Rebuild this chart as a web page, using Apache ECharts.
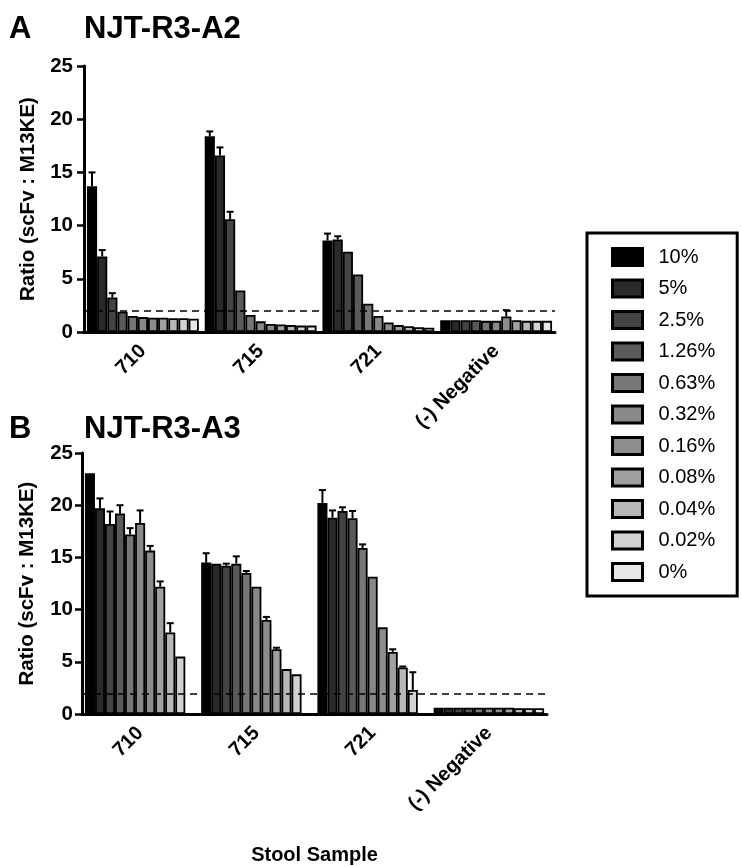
<!DOCTYPE html>
<html>
<head>
<meta charset="utf-8">
<script src="https://cdn.jsdelivr.net/npm/echarts@6/dist/echarts.min.js"></script>
<style>html,body{margin:0;padding:0;background:#fff}#c{width:741px;height:867px}</style>
</head>
<body>
<div id="c"></div>
<script>
// ---- data ----
const categories = ['710', '715', '721', '(-) Negative'];
const concentrations = ['10%', '5%', '2.5%', '1.26%', '0.63%', '0.32%', '0.16%', '0.08%', '0.04%', '0.02%', '0%'];
const yTicks = [0, 5, 10, 15, 20, 25];
const cutoffA = 2.0;
const cutoffB = 1.9;

// Panel A (NJT-R3-A2): values per stool sample, across concentrations (10% ... 0%)
const a2_710 = [13.7, 7.1, 3.25, 1.9, 1.5, 1.4, 1.35, 1.35, 1.3, 1.3, 1.25];
const a2_715 = [18.4, 16.6, 10.6, 3.9, 1.6, 1.0, 0.75, 0.7, 0.65, 0.6, 0.6];
const a2_721 = [8.6, 8.7, 7.55, 5.4, 2.65, 1.5, 0.9, 0.65, 0.55, 0.45, 0.4];
const a2_neg = [1.1, 1.1, 1.1, 1.1, 1.05, 1.05, 1.45, 1.1, 1.05, 1.05, 1.05];
const a2_710_err = [1.3, 0.6, 0.4, 0, 0, 0, 0, 0, 0, 0, 0];
const a2_715_err = [0.45, 0.75, 0.7, 0, 0, 0, 0, 0, 0, 0, 0];
const a2_721_err = [0.65, 0.3, 0, 0, 0, 0, 0, 0, 0, 0, 0];
const a2_neg_err = [0, 0, 0, 0, 0, 0, 0.6, 0, 0, 0, 0];

// Panel B (NJT-R3-A3)
const a3_710 = [23.05, 19.7, 18.2, 19.2, 17.2, 18.3, 15.65, 12.2, 7.8, 5.5, null];
const a3_715 = [14.5, 14.4, 14.2, 14.4, 13.5, 12.2, 9.0, 6.2, 4.3, 3.8, null];
const a3_721 = [20.2, 18.8, 19.45, 18.75, 15.9, 13.15, 8.3, 5.95, 4.45, 2.3, null];
const a3_neg = [0.6, 0.6, 0.6, 0.6, 0.6, 0.6, 0.6, 0.6, 0.55, 0.55, 0.55];
const a3_710_err = [0, 0.95, 1.2, 0.8, 0.6, 1.2, 0.45, 0.5, 0.9, 0, 0];
const a3_715_err = [0.9, 0, 0.2, 0.7, 0.2, 0, 0.3, 0.15, 0, 0, 0];
const a3_721_err = [1.25, 0.7, 0.35, 0.7, 0.35, 0, 0, 0.25, 0.1, 1.7, 0];
const a3_neg_err = [0, 0, 0, 0, 0, 0, 0, 0, 0, 0, 0];

// ---- styling ----
const grays = ['#000000', '#2a2a2a', '#444444', '#5a5a5a', '#777777', '#888888', '#8d8d8d', '#a0a0a0', '#b8b8b8', '#d2d2d2', '#e8e8e8'];
const FONT = 'Liberation Sans, Arial, sans-serif';
const CAT_GAP = 0.05;

const panels = [
  { means: [a2_710, a2_715, a2_721, a2_neg], errs: [a2_710_err, a2_715_err, a2_721_err, a2_neg_err], cutoff: cutoffA },
  { means: [a3_710, a3_715, a3_721, a3_neg], errs: [a3_710_err, a3_715_err, a3_721_err, a3_neg_err], cutoff: cutoffB }
];

const series = [];
panels.forEach((p, pi) => {
  concentrations.forEach((name, si) => {
    const s = {
      name: name,
      type: 'bar',
      xAxisIndex: pi,
      yAxisIndex: pi,
      barGap: '0%',
      barCategoryGap: (CAT_GAP * 100) + '%',
      data: p.means.map(arr => arr[si]),
      itemStyle: { color: grays[si], borderColor: '#000', borderWidth: 1.8 },
      emphasis: { disabled: true },
      z: 2
    };
    if (si === 0) {
      s.markLine = {
        silent: true,
        symbol: ['none', 'none'],
        label: { show: false },
        lineStyle: { color: '#000', type: [7, 5], width: 1.6 },
        data: [{ yAxis: p.cutoff }],
        z: 5
      };
    }
    series.push(s);
  });
  const errData = [];
  p.means.forEach((arr, ci) => {
    arr.forEach((v, si) => {
      const e = p.errs[ci][si];
      if (v != null && e > 0) errData.push([ci, si, v, e]);
    });
  });
  series.push({
    name: 'err' + pi,
    type: 'custom',
    xAxisIndex: pi,
    yAxisIndex: pi,
    encode: { x: 0, y: 2 },
    data: errData,
    z: 4,
    renderItem: function (params, api) {
      const ci = api.value(0), si = api.value(1), v = api.value(2), e = api.value(3);
      const band = api.size([1, 0])[0];
      const bw = band * (1 - CAT_GAP) / concentrations.length;
      const cx = api.coord([ci, 0])[0] + (si - (concentrations.length - 1) / 2) * bw;
      const yTop = api.coord([ci, v + e])[1];
      const yBase = api.coord([ci, v])[1];
      const st = { stroke: '#000', lineWidth: 2 };
      return {
        type: 'group',
        children: [
          { type: 'line', shape: { x1: cx, y1: yBase, x2: cx, y2: yTop }, style: st },
          { type: 'line', shape: { x1: cx - 3.5, y1: yTop, x2: cx + 3.5, y2: yTop }, style: st }
        ]
      };
    }
  });
});

function yAxis(gi, margin) {
  return {
    type: 'value',
    gridIndex: gi,
    min: yTicks[0], max: yTicks[yTicks.length - 1], interval: yTicks[1] - yTicks[0],
    name: 'Ratio (scFv : M13KE)',
    nameLocation: 'middle',
    nameGap: 44,
    nameTextStyle: { fontFamily: FONT, fontWeight: 'bold', fontSize: 20.5, color: '#000' },
    axisLine: { show: true, lineStyle: { color: '#000', width: 3 } },
    axisTick: { show: true, length: 7, lineStyle: { color: '#000', width: 2.5 } },
    axisLabel: { fontFamily: FONT, fontWeight: 'bold', fontSize: 20.5, color: '#000', margin: margin },
    splitLine: { show: false }
  };
}
function xAxis(gi, withName) {
  const ax = {
    type: 'category',
    gridIndex: gi,
    data: categories,
    axisLine: { lineStyle: { color: '#000', width: 3 } },
    axisTick: { alignWithLabel: true, length: 8, lineStyle: { color: '#000', width: 3 } },
    axisLabel: { rotate: 45, fontFamily: FONT, fontWeight: 'bold', fontSize: 20, color: '#000', margin: 16, interval: 0 }
  };
  if (withName) {
    ax.name = 'Stool Sample';
    ax.nameLocation = 'middle';
    ax.nameGap = 131;
    ax.nameTextStyle = { fontFamily: FONT, fontWeight: 'bold', fontSize: 20, color: '#000' };
  }
  return ax;
}

const chart = echarts.init(document.getElementById('c'), null, { renderer: 'canvas' });
chart.setOption({
  animation: false,
  backgroundColor: '#fff',
  title: [
    { text: 'A', left: 4, top: 9, textStyle: { fontFamily: FONT, fontWeight: 'bold', fontSize: 31, color: '#000' } },
    { text: 'NJT-R3-A2', left: 79, top: 9, textStyle: { fontFamily: FONT, fontWeight: 'bold', fontSize: 31, color: '#000' } },
    { text: 'B', left: 4, top: 409, textStyle: { fontFamily: FONT, fontWeight: 'bold', fontSize: 31, color: '#000' } },
    { text: 'NJT-R3-A3', left: 79, top: 409, textStyle: { fontFamily: FONT, fontWeight: 'bold', fontSize: 31, color: '#000' } }
  ],
  legend: {
    data: concentrations,
    orient: 'vertical',
    left: 587,
    top: 233,
    padding: [14, 22, 14, 24],
    borderColor: '#000',
    borderWidth: 3,
    itemWidth: 30,
    itemHeight: 17,
    itemGap: 11.5,
    icon: 'rect',
    selectedMode: false,
    itemStyle: { borderColor: '#000', borderWidth: 3 },
    textStyle: { fontFamily: FONT, fontSize: 20, color: '#000', padding: [0, 0, 0, 11] }
  },
  grid: [
    { left: 84, top: 66, width: 471, height: 266 },
    { left: 82, top: 453, width: 465, height: 261 }
  ],
  xAxis: [xAxis(0, false), xAxis(1, true)],
  yAxis: [yAxis(0, 11), yAxis(1, 9)],
  series: series
});
</script>
</body>
</html>
